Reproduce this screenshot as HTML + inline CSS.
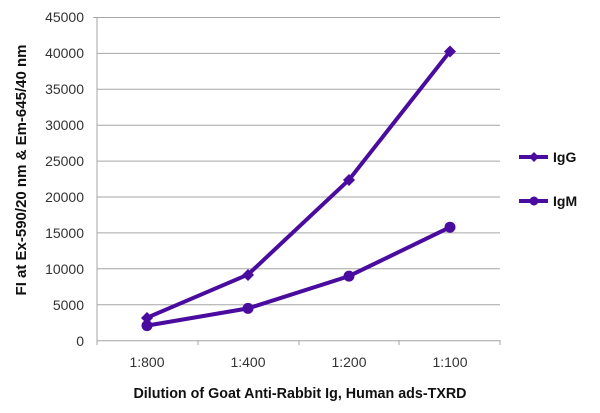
<!DOCTYPE html>
<html><head><style>body{margin:0;background:#fff}svg{display:block}</style></head><body>
<svg width="600" height="413" xmlns="http://www.w3.org/2000/svg" font-family="Liberation Sans, sans-serif">
<g stroke="#a6a6a6" stroke-width="1">
<line x1="97" y1="17.5" x2="500" y2="17.5"/><line x1="97" y1="53.4" x2="500" y2="53.4"/><line x1="97" y1="89.3" x2="500" y2="89.3"/><line x1="97" y1="125.2" x2="500" y2="125.2"/><line x1="97" y1="161.1" x2="500" y2="161.1"/><line x1="97" y1="197" x2="500" y2="197"/><line x1="97" y1="232.9" x2="500" y2="232.9"/><line x1="97" y1="268.8" x2="500" y2="268.8"/><line x1="97" y1="304.7" x2="500" y2="304.7"/><line x1="97" y1="340.7" x2="500" y2="340.7"/>
<line x1="97" y1="17" x2="97" y2="345"/>
<line x1="93" y1="17.5" x2="97" y2="17.5"/><line x1="198" y1="340" x2="198" y2="345"/><line x1="299" y1="340" x2="299" y2="345"/><line x1="399" y1="340" x2="399" y2="345"/><line x1="500" y1="340" x2="500" y2="345"/>
</g>
<g font-size="14" fill="#333" text-anchor="end">
<text x="84" y="22">45000</text><text x="84" y="58">40000</text><text x="84" y="94">35000</text><text x="84" y="130">30000</text><text x="84" y="166">25000</text><text x="84" y="202">20000</text><text x="84" y="238">15000</text><text x="84" y="274">10000</text><text x="84" y="310">5000</text><text x="84" y="346">0</text>
</g>
<g font-size="14" fill="#333" text-anchor="middle">
<text x="147" y="367">1:800</text><text x="248" y="367">1:400</text><text x="349" y="367">1:200</text><text x="450" y="367">1:100</text>
</g>
<text x="300" y="398" font-size="14.3" font-weight="bold" text-anchor="middle" fill="#111">Dilution of Goat Anti-Rabbit Ig, Human ads-TXRD</text>
<text transform="translate(26,170) rotate(-90)" font-size="15" font-weight="bold" text-anchor="middle" fill="#111">FI at Ex-590/20 nm &amp; Em-645/40 nm</text>
<g stroke="#4a0c9e" stroke-width="4" fill="none">
<polyline points="147,317.7 248,274.6 349,179.8 450,51.3"/>
<polyline points="147,325.6 248,308.4 349,276.1 450,227.2"/>
<line x1="519" y1="157" x2="548" y2="157"/><line x1="519" y1="201" x2="548" y2="201"/>
</g>
<g fill="#4a0c9e">
<path d="M147,312 l6,6 -6,6 -6,-6z"/><path d="M248,269 l6,6 -6,6 -6,-6z"/><path d="M349,174 l6,6 -6,6 -6,-6z"/><path d="M450,45.5 l6,6 -6,6 -6,-6z"/>
<circle cx="147" cy="325.6" r="5.5"/><circle cx="248" cy="308.4" r="5.5"/><circle cx="349" cy="276.1" r="5.5"/><circle cx="450" cy="227.2" r="5.5"/>
<path d="M534,152 l5,5 -5,5 -5,-5z"/><circle cx="534" cy="201" r="4.5"/>
</g>
<g font-size="14" font-weight="bold" fill="#111">
<text x="553" y="162">IgG</text><text x="553" y="206">IgM</text>
</g>
</svg>
</body></html>
